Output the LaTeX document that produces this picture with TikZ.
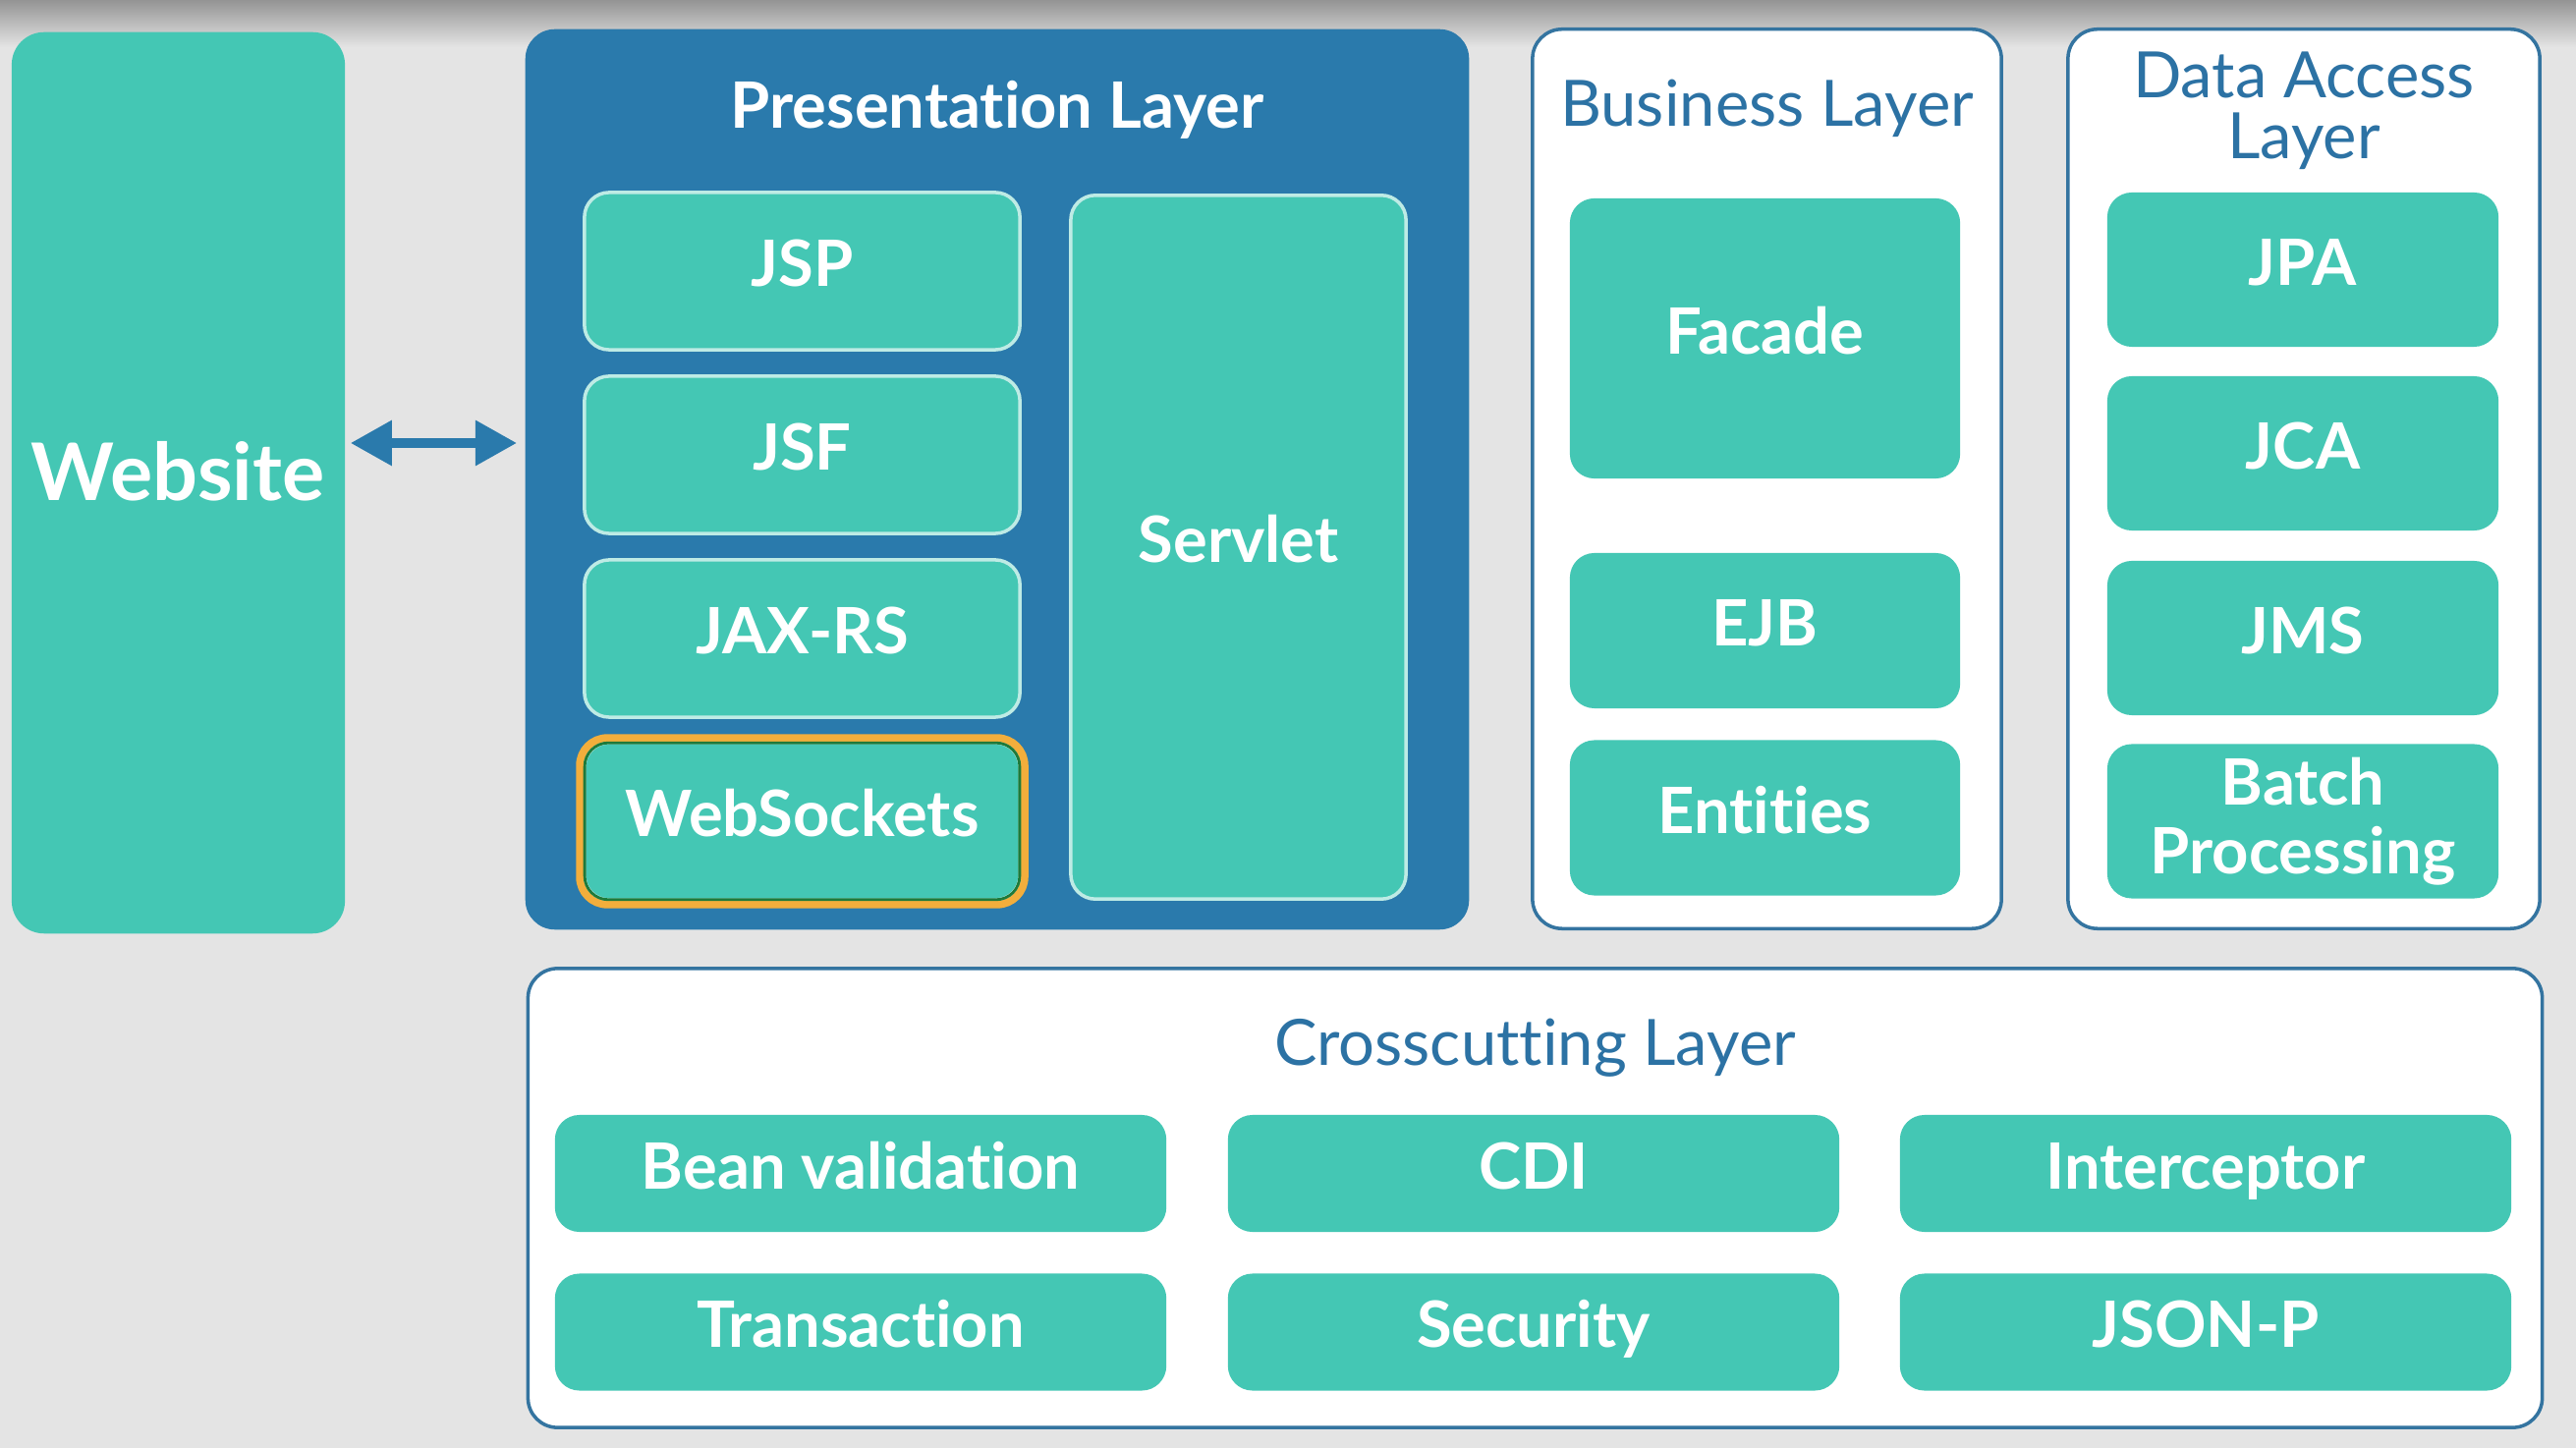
\documentclass[tikz,border=0pt]{standalone}
\usepackage{fontspec}
\setmainfont{Lato}[Ligatures={NoCommon}]
\usetikzlibrary{arrows.meta, positioning}
\definecolor{mTeal}{HTML}{44C7B4}
\definecolor{mBlue}{HTML}{2A7AAC}
\definecolor{mTitle}{HTML}{2C72A4}
\definecolor{mEdge}{HTML}{3474A0}
\definecolor{mBack}{HTML}{E4E4E4}
\definecolor{mOrange}{HTML}{F2AE3C}
\definecolor{mGreen}{HTML}{1E7A3A}

\begin{document}
\begin{tikzpicture}[x=0.01cm, y=-0.01cm,
    tealbox/.style={rectangle, rounded corners=0.25cm, fill=mTeal, text=white,
      font=\bfseries\fontsize{18.5}{20}\selectfont, align=center, inner sep=0pt},
    oneline/.style={text height=13.5pt, text depth=4.5pt},
    layerbox/.style={rectangle, rounded corners=0.3cm, fill=white, draw=mEdge,
      line width=1pt, inner sep=0pt},
    layertitle/.style={text=mTitle, font=\fontsize{18.5}{17.5}\selectfont, align=center}]
    % background
    \useasboundingbox (0,0) rectangle (2622,1474);
    \fill[mBack] (0,0) rectangle (2622,1474);
    \shade[top color=black!42, bottom color=mBack] (0,0) rectangle (2622,48);

    % website
    \node[tealbox, rounded corners=0.33cm, minimum width=3.39cm, minimum height=9.17cm] (website) at (181.5,491.5) {};
    \node[text=white, font=\bfseries\fontsize{23}{24}\selectfont] (websitetxt) at (181,480) {Website};

    % presentation layer
    \node[rectangle, rounded corners=0.3cm, fill=mBlue, minimum width=9.6cm,
      minimum height=9.16cm, inner sep=0pt] (pres) at (1015,488) {};
    \node[text=white, font=\bfseries\fontsize{18.5}{20}\selectfont] (prestitle) at (1015,112) {Presentation Layer};
    \foreach \t/\y [count=\i] in {JSP/276, JSF/463, JAX-RS/650, WebSockets/836} {
      \node[tealbox, oneline, draw=white!65!mTeal, line width=1pt, minimum width=4.43cm,
        minimum height=1.6cm] (pres\i) at (816.5,\y) {\t};
    }
    \node[tealbox, oneline, draw=white!65!mTeal, line width=1pt, minimum width=3.41cm,
      minimum height=7.16cm] (servlet) at (1260.5,557) {Servlet};
    \draw[mOrange, line width=2.2pt, rounded corners=0.28cm]
      ([shift={(-3,-3)}]pres4.north west) rectangle ([shift={(3,3)}]pres4.south east);
    \draw[mGreen, line width=0.8pt, rounded corners=0.24cm]
      ([shift={(2,2)}]pres4.north west) rectangle ([shift={(-2,-2)}]pres4.south east);

    % arrow
    \coordinate (arrowy) at (0,451);
    \draw[mBlue, line width=2.6pt, {Triangle[length=0.42cm,width=0.44cm]}-{Triangle[length=0.42cm,width=0.44cm]}]
      ([xshift=0.05cm]website.east |- arrowy) -- ([xshift=-0.08cm]pres.west |- arrowy);

    % business layer
    \node[layerbox, minimum width=4.77cm, minimum height=9.15cm] (business) at (1798.5,487.5) {};
    \node[layertitle] (businesstitle) at (1798.5,110) {Business Layer};
    \node[tealbox, oneline, minimum width=3.97cm, minimum height=2.85cm] (facade) at (1796.5,344.5) {Facade};
    \node[tealbox, oneline, minimum width=3.97cm, minimum height=1.58cm] (ejb) at (1796.5,642) {EJB};
    \node[tealbox, oneline, minimum width=3.97cm, minimum height=1.58cm] (entities) at (1796.5,832.5) {Entities};

    % data access layer
    \node[layerbox, minimum width=4.8cm, minimum height=9.15cm] (dal) at (2345,487.5) {};
    \node[layertitle] (daltitle) at (2345,113) {Data Access\\Layer};
    \foreach \t/\y [count=\i] in {JPA/274.5, JCA/461.5, JMS/649.5} {
      \node[tealbox, oneline, minimum width=3.98cm, minimum height=1.57cm] (dal\i) at (2344,\y) {\t};
    }
    \node[tealbox, minimum width=3.98cm, minimum height=1.57cm] (dal4) at (2344,836) {Batch\\Processing};

    % crosscutting layer
    \node[layerbox, minimum width=20.49cm, minimum height=4.67cm] (cross) at (1562.5,1219.5) {};
    \node[layertitle] (crosstitle) at (1562.5,1067) {Crosscutting Layer};
    \foreach \t/\x/\y [count=\i] in {Bean validation/876/1194.5, CDI/1561/1194.5,
        Interceptor/2245/1194.5, Transaction/876/1356, Security/1561/1356, JSON-P/2245/1356} {
      \node[tealbox, oneline, minimum width=6.22cm, minimum height=1.19cm] (cross\i) at (\x,\y) {\t};
    }
  \end{tikzpicture}
\end{document}
